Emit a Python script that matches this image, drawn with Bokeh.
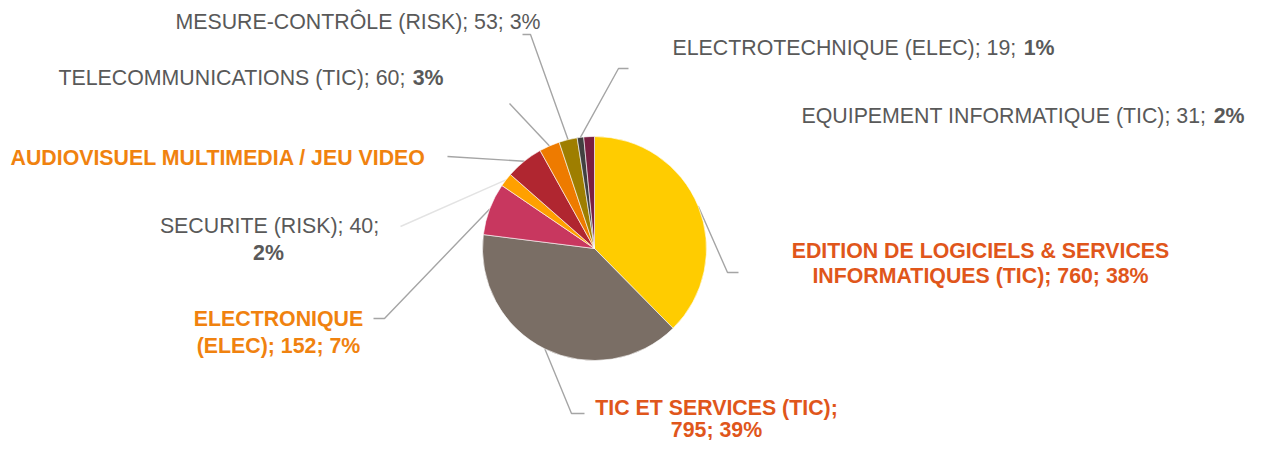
import math
from bokeh.plotting import figure
from bokeh.models import Range1d
from bokeh.core.properties import value
from bokeh.embed import file_html
from bokeh.resources import INLINE

# ---------------- data ----------------
categories = [
    "EDITION DE LOGICIELS & SERVICES INFORMATIQUES (TIC)",
    "TIC ET SERVICES (TIC)",
    "ELECTRONIQUE (ELEC)",
    "SECURITE (RISK)",
    "AUDIOVISUEL MULTIMEDIA / JEU VIDEO",
    "TELECOMMUNICATIONS (TIC)",
    "MESURE-CONTRÔLE (RISK)",
    "ELECTROTECHNIQUE (ELEC)",
    "EQUIPEMENT INFORMATIQUE (TIC)",
]
counts = [760, 795, 152, 40, 110, 60, 53, 19, 31]
percent_labels = ["38%", "39%", "7%", "2%", "5%", "3%", "3%", "1%", "2%"]
slice_colors = ["#FFCC00", "#7A6E65", "#C8375F", "#FFA000", "#B02630",
                "#EE7B00", "#9E7E00", "#414040", "#7A1F42"]

# ---------------- layout ----------------
W, H = 1247, 440


def Y(y_img):
    return H - y_img


p = figure(width=W, height=H, x_range=Range1d(0, W), y_range=Range1d(0, H),
           output_backend="svg", toolbar_location=None, min_border=0)
p.axis.visible = False
p.grid.visible = False
p.outline_line_color = None
p.background_fill_color = "white"
p.border_fill_color = "white"

cx, cy, R = 594, Y(248), 112
total = float(sum(counts))
starts, ends, mids = [], [], []
acc = 0.0
for c in counts:
    t0 = acc / total * 2 * math.pi
    acc += c
    t1 = acc / total * 2 * math.pi
    starts.append(t0)
    ends.append(t1)
    mids.append((t0 + t1) / 2)

FONT = value("Liberation Sans")
FS = "21.33px"
GREY = "#595959"
RED_OR = "#E0561B"
ORANGE = "#F0820F"
LINE = "#A5A5A5"


def edge_point(i):
    t = mids[i]
    return cx + R * math.sin(t), cy + R * math.cos(t)


# leader lines: (slice index, image-coord points after the slice edge point, color)
leaders = [
    (0, [(727, 272), (738, 272)], LINE),
    (1, [(571, 413), (584, 413)], LINE),
    (2, [(384, 318), (373, 318)], LINE),
    (3, [(400, 226)], "#E3E3E3"),
    (4, [(447, 156)], LINE),
    (5, [(509, 103)], LINE),
    (6, [(530, 34), (522, 34)], LINE),
    (7, [(618, 68), (628, 68)], LINE),
]
for i, pts, col in leaders:
    ex, ey = edge_point(i)
    xs = [ex] + [q[0] for q in pts]
    ys = [ey] + [Y(q[1]) for q in pts]
    p.line(xs, ys, line_color=col, line_width=1.4)

# pie slices (clockwise from 12 o'clock)
p.wedge(x=[cx] * len(counts), y=[cy] * len(counts), radius=R,
        start_angle=[math.pi / 2 - e for e in ends],
        end_angle=[math.pi / 2 - s for s in starts],
        direction="anticlock", fill_color=slice_colors,
        line_color="white", line_width=0.6)


def txt(x, y, s, color, bold=False, align="left"):
    p.text(x=[x], y=[Y(y)], text=[s], text_color=color, text_font=FONT,
           text_font_size=FS, text_font_style="bold" if bold else "normal",
           text_align=align, text_baseline="middle")


def lbl(i):
    return f"{categories[i]}; {counts[i]};"


# EDITION (bold, two lines, centered)
txt(980, 250, "EDITION DE LOGICIELS & SERVICES", RED_OR, True, "center")
txt(980, 275, f"INFORMATIQUES (TIC); {counts[0]}; {percent_labels[0]}", RED_OR, True, "center")
# TIC ET SERVICES
txt(716, 407, f"{categories[1]};", RED_OR, True, "center")
txt(716, 429, f"{counts[1]}; {percent_labels[1]}", RED_OR, True, "center")
# ELECTRONIQUE
txt(278, 318, "ELECTRONIQUE", ORANGE, True, "center")
txt(278, 345, f"(ELEC); {counts[2]}; {percent_labels[2]}", ORANGE, True, "center")
# SECURITE
txt(269, 225, lbl(3), GREY, False, "center")
txt(268, 252, percent_labels[3], GREY, True, "center")
# AUDIOVISUEL
txt(10, 157, categories[4], ORANGE, True, "left")
# TELECOM
txt(58, 77, lbl(5), GREY, False, "left")
txt(443, 77, percent_labels[5], GREY, True, "right")
# MESURE
txt(175, 21, f"{lbl(6)} {percent_labels[6]}", GREY, False, "left")
# ELECTROTECHNIQUE
txt(672, 47, lbl(7), GREY, False, "left")
txt(1054, 47, percent_labels[7], GREY, True, "right")
# EQUIPEMENT
txt(801, 115, lbl(8), GREY, False, "left")
txt(1244, 115, percent_labels[8], GREY, True, "right")

open("out.html", "w").write(file_html(p, INLINE))
